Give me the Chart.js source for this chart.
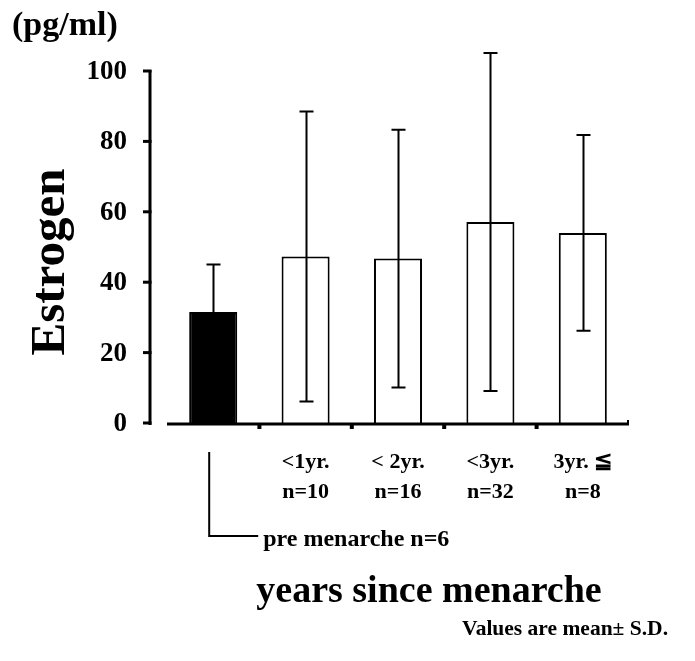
<!DOCTYPE html>
<html>
<head>
<meta charset="utf-8">
<script src="https://cdn.jsdelivr.net/npm/chart.js@4.4.1/dist/chart.umd.min.js"></script>
<style>
  html, body { margin: 0; padding: 0; background: #fff; }
  #wrap { width: 695px; height: 661px; position: relative; }
</style>
</head>
<body>
<div id="wrap"><canvas id="c" width="695" height="661"></canvas></div>
<script>
// Serum estrogen by years since menarche (mean and S.D.)
const categories = ['pre menarche', '<1yr.', '< 2yr.', '<3yr.', '3yr. \u2266'];
const groupSizes = [6, 10, 16, 32, 8];
const meanValues = [31.5, 47.3, 46.7, 57.1, 54.0];
const sdValues = [13.5, 41.2, 36.6, 48.0, 27.8];
const yTickValues = [0, 20, 40, 60, 80, 100];

const SERIF = '"Liberation Serif", "Times New Roman", serif';
const font = (px) => 'bold ' + px + 'px ' + SERIF;

// Error bars, hand-drawn axes and all annotation text
const decorations = {
  id: 'decorations',
  afterDatasetsDraw(chart) {
    const ctx = chart.ctx;
    const xs = chart.scales.x;
    const ys = chart.scales.y;
    const area = chart.chartArea;
    ctx.save();
    ctx.strokeStyle = '#000';
    ctx.fillStyle = '#000';

    // mean ± S.D. whiskers
    ctx.lineWidth = 2;
    meanValues.forEach((m, i) => {
      const cx = Math.round(xs.getPixelForValue(i)) + 0.5;
      const top = ys.getPixelForValue(m + sdValues[i]);
      const bot = ys.getPixelForValue(m - sdValues[i]);
      ctx.beginPath();
      ctx.moveTo(cx, top); ctx.lineTo(cx, bot);
      ctx.moveTo(cx - 7, top); ctx.lineTo(cx + 7, top);
      ctx.moveTo(cx - 7, bot); ctx.lineTo(cx + 7, bot);
      ctx.stroke();
    });

    // y axis, set apart from the plot
    const axisX = area.left - 17;
    const y0 = ys.getPixelForValue(0);
    const yTop = ys.getPixelForValue(yTickValues[yTickValues.length - 1]);
    ctx.lineWidth = 3;
    ctx.beginPath();
    ctx.moveTo(axisX, yTop - 1); ctx.lineTo(axisX, y0 + 2);
    ctx.stroke();
    ctx.font = font(27);
    ctx.textAlign = 'right';
    ctx.textBaseline = 'middle';
    yTickValues.forEach(v => {
      const py = ys.getPixelForValue(v);
      ctx.beginPath();
      ctx.moveTo(axisX - 7, py); ctx.lineTo(axisX + 1.5, py);
      ctx.stroke();
      ctx.fillText(String(v), axisX - 23, py + 1);
    });

    // x axis with boundary ticks between groups
    ctx.beginPath();
    ctx.moveTo(area.left, y0 + 1); ctx.lineTo(area.right, y0 + 1);
    ctx.stroke();
    for (let i = 0; i < categories.length - 1; i++) {
      const bx = (xs.getPixelForValue(i) + xs.getPixelForValue(i + 1)) / 2;
      ctx.fillRect(bx - 2, y0 + 1, 4, 5);
    }
    ctx.fillRect(area.right - 2, y0 - 3, 2, 4);

    // group labels
    ctx.textAlign = 'center';
    ctx.font = font(22);
    for (let i = 1; i < categories.length; i++) {
      const cx = xs.getPixelForValue(i);
      ctx.fillText(categories[i], cx, y0 + 39);
      ctx.fillText('n=' + groupSizes[i], cx, y0 + 69);
    }

    // elbow pointer to the first group
    const c0 = xs.getPixelForValue(0) - 4;
    ctx.lineWidth = 2;
    ctx.beginPath();
    ctx.moveTo(c0, y0 + 29);
    ctx.lineTo(c0, y0 + 113);
    ctx.lineTo(c0 + 49, y0 + 113);
    ctx.stroke();
    ctx.textAlign = 'left';
    ctx.font = font(24);
    ctx.fillText(categories[0] + ' n=' + groupSizes[0], c0 + 54, y0 + 117);

    // titles
    ctx.font = font(34);
    ctx.textAlign = 'left';
    ctx.fillText('(pg/ml)', 12, 26);

    ctx.font = font(38);
    ctx.textAlign = 'center';
    ctx.fillText('years since menarche', 429, 592);

    ctx.font = font(21.5);
    ctx.textAlign = 'right';
    ctx.fillText('Values are mean\u00B1 S.D.', 668, 629);

    ctx.save();
    ctx.translate(51, 262);
    ctx.rotate(-Math.PI / 2);
    ctx.font = font(49);
    ctx.textAlign = 'center';
    ctx.fillText('Estrogen', 0, 0);
    ctx.restore();

    ctx.restore();
  }
};

new Chart(document.getElementById('c'), {
  type: 'bar',
  data: {
    labels: categories,
    datasets: [{
      data: meanValues,
      backgroundColor: meanValues.map((_, i) => i === 0 ? '#000' : '#fff'),
      borderColor: '#000',
      borderWidth: 2,
      borderSkipped: 'bottom',
      categoryPercentage: 1,
      barPercentage: 0.52
    }]
  },
  options: {
    responsive: false,
    animation: false,
    devicePixelRatio: 1,
    layout: { padding: { left: 167, right: 66, top: 71, bottom: 238 } },
    plugins: { legend: { display: false }, tooltip: { enabled: false } },
    scales: {
      x: { display: false, offset: true },
      y: { display: false, min: 0, max: 100 }
    }
  },
  plugins: [decorations]
});
</script>
</body>
</html>
